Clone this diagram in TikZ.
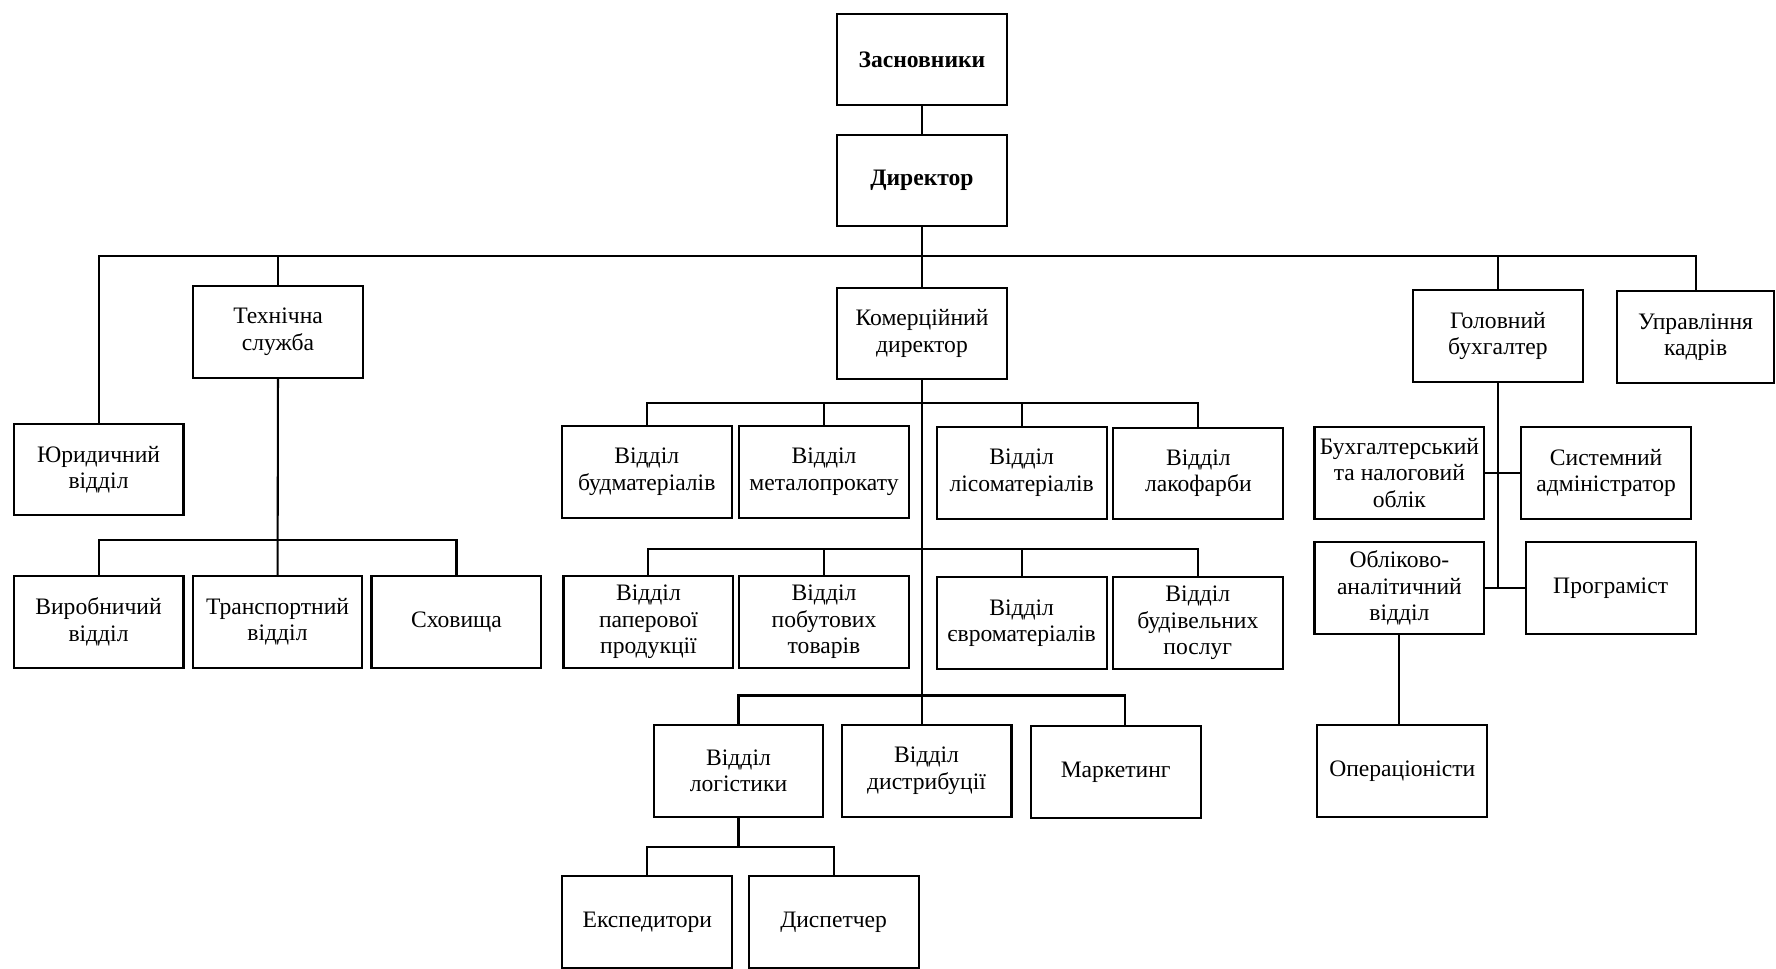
\documentclass[tikz,border=0pt]{standalone}
\usepackage{fontspec}
\setmainfont{Liberation Serif}
\usetikzlibrary{positioning}

\begin{document}
\begin{tikzpicture}[x=0.6pt,y=-0.6pt,
  unit/.style={draw,line width=1.1pt,minimum width=90pt,minimum height=48.6pt,align=center,inner sep=1pt,font=\fontsize{12.5}{14}\selectfont},
  link/.style={line width=1.1pt}]
  \useasboundingbox (0,0) rectangle (1568,855);
  \node[unit,font=\fontsize{12.5}{14}\selectfont\bfseries] (zas) at (814,52.5) {Засновники};
  \node[unit,font=\fontsize{12.5}{14}\selectfont\bfseries,below=14.4pt of zas] (dir) {Директор};
  \node[unit] (kom) at (814,294.5) {Комерційний\\директор};
  \node[unit] (tech) at (245.5,293) {Технічна\\служба};
  \node[unit] (yur) at (87,414.5) {Юридичний\\відділ};
  \node[unit] (gol) at (1322.5,296.5) {Головний\\бухгалтер};
  \node[unit,minimum width=83.4pt] (kadr) at (1497,297.5) {Управління\\кадрів};

  \node[unit] (vyr) at (87,549) {Виробничий\\відділ};
  \node[unit] (trans) at (245,549) {Транспортний\\відділ};
  \node[unit] (skh) at (403,549) {Сховища};

  \node[unit] (bud) at (571,416.5) {Відділ\\будматеріалів};
  \node[unit] (met) at (727.5,416.5) {Відділ\\металопрокату};
  \node[unit] (lis) at (902,417.5) {Відділ\\лісоматеріалів};
  \node[unit] (lak) at (1058,418) {Відділ\\лакофарби};

  \node[unit] (pap) at (572.5,549) {Відділ\\паперової\\продукції};
  \node[unit] (pob) at (727.5,549) {Відділ\\побутових\\товарів};
  \node[unit] (evro) at (902,550) {Відділ\\євроматеріалів};
  \node[unit] (budp) at (1057.5,550) {Відділ\\будівельних\\послуг};

  \node[unit] (log) at (652,680.5) {Відділ\\логістики};
  \node[unit] (dys) at (818,680.5) {Відділ\\дистрибуції};
  \node[unit] (mark) at (985,681.5) {Маркетинг};

  \node[unit] (eksp) at (571.5,814) {Експедитори};
  \node[unit] (disp) at (736,814) {Диспетчер};

  \node[unit] (bukh) at (1235.5,417.5) {Бухгалтерський\\та налоговий\\облік};
  \node[unit] (sys) at (1418,417.5) {Системний\\адміністратор};
  \node[unit] (obl) at (1235.5,519) {Обліково-\\аналітичний\\відділ};
  \node[unit] (prog) at (1422,519) {Програміст};
  \node[unit] (oper) at (1238,680.5) {Операціоністи};

  \coordinate (top bus) at (0,226);
  \coordinate (tech bus) at (0,477);
  \coordinate (k1) at (0,356);
  \coordinate (k2) at (0,485);
  \coordinate (k3) at (0,614);
  \coordinate (l1) at (0,748);

  \draw[link] (zas) -- (dir);
  \draw[link] (dir) -- (kom);
  \draw[link] (yur.north) |- (kadr.north |- top bus) -- (kadr.north);
  \foreach \n in {tech,gol}
    \draw[link] (\n.north) -- (\n.north |- top bus);

  \draw[link] (tech) -- (trans);
  \draw[link] (vyr.north) |- (skh.north |- tech bus) -- (skh.north);

  \draw[link] (kom.south) -- (kom.south |- dys.north);
  \draw[link] (bud.north) |- (lak.north |- k1) -- (lak.north);
  \foreach \n in {met,lis}
    \draw[link] (\n.north) -- (\n.north |- k1);
  \draw[link] (pap.north) |- (budp.north |- k2) -- (budp.north);
  \foreach \n in {pob,evro}
    \draw[link] (\n.north) -- (\n.north |- k2);
  \draw[link] (log.north) |- ([xshift=4.8pt]mark.north |- k3) -- ([xshift=4.8pt]mark.north);
  \draw[link] (log.south) -- (log.south |- l1);
  \draw[link] (eksp.north) |- (disp.north |- l1) -- (disp.north);

  \draw[link] (gol.south) -- (gol.south |- obl.east);
  \draw[link] (bukh.east) -- (sys.west);
  \draw[link] (obl.east) -- (prog.west);
  \draw[link] (obl.south) -- (obl.south |- oper.north);
\end{tikzpicture}
\end{document}
